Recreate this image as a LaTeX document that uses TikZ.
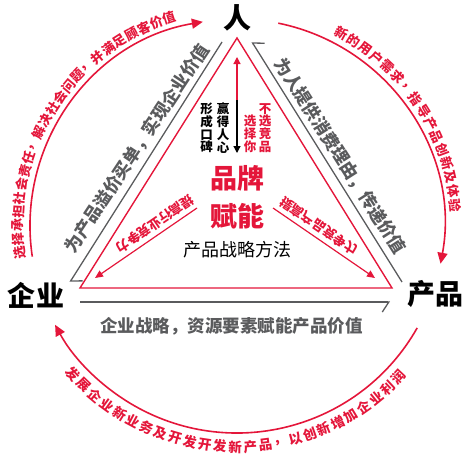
\documentclass[tikz,border=0pt]{standalone}
\usepackage{fontspec}
\setmainfont{Noto Sans CJK SC}
\usetikzlibrary{arrows.meta}
\definecolor{brandred}{HTML}{E4163A}
\definecolor{slate}{HTML}{5A5B5D}

\begin{document}
\begin{tikzpicture}[x=1pt,y=1pt,
     pole/.style={font=\fontsize{28}{28}\selectfont\bfseries,inner sep=0},
     slab/.style={font=\fontsize{17.5}{17.5}\selectfont\bfseries,text=slate,inner sep=0},
     tag/.style={font=\fontsize{13}{13}\selectfont\bfseries,text=brandred,inner sep=0},
     ringch/.style={font=\fontsize{13}{13}\selectfont\bfseries,text=brandred,inner sep=0},
     col/.style={font=\fontsize{12.5}{12.8}\selectfont\bfseries,align=center,inner sep=0},
     rim/.style={draw=brandred,line width=1.6pt,-{Triangle[length=11pt,width=10pt]}},
     edge/.style={draw=brandred,line width=1.4pt,line join=miter},
     flow/.style={draw=slate,line width=1.3pt,-{Straight Barb[harpoon,angle=114:12pt]}},
     flowsw/.style={draw=slate,line width=1.3pt,-{Straight Barb[harpoon,swap,angle=114:12pt]}},
     push/.style={draw=brandred,line width=1.2pt,-{Triangle[length=8pt,width=7pt]}}]
    \useasboundingbox (0,0) rectangle (470,-463);
    \node[pole](ren) at (237,-18){人};
    \node[pole](qiye) at (36,-295){企业};
    \node[pole](chanpin) at (435,-294){产品};
    % red triangle
    \coordinate (ta) at (237,-38); \coordinate (tl) at (80,-288); \coordinate (tr) at (392,-288);
    \draw[edge] (ta) -- (tl) -- (tr) -- cycle;
    % grey sides
    \coordinate (gl1) at (222,-42); \coordinate (gl2) at (70,-282);
    \coordinate (gr1) at (252,-42); \coordinate (gr2) at (402,-282);
    \coordinate (gb1) at (80,-302); \coordinate (gb2) at (390,-302);
    \draw[flow] (gl1) -- (gl2);
    \draw[flowsw] (gr2) -- (gr1);
    \draw[flowsw] (gb1) -- (gb2);
    \node[slab,rotate=56.5](left) at (137,-148.5){为产品溢价买单，实现企业价值};
    \node[slab,rotate=-57.5](right) at (340,-156){为人提供消费理由，传递价值};
    \node[slab](base) at (231.5,-326){企业战略，资源要素赋能产品价值};
    % outer ring
    \coordinate (hub) at (237,-226);
    \draw[rim] ([shift={(188.5:207)}]hub) arc[start angle=188.5,end angle=99.5,radius=207];
    \draw[rim] ([shift={(78.5:207)}]hub) arc[start angle=78.5,end angle=-10.5,radius=207];
    \draw[rim] ([shift={(-29.5:207)}]hub) arc[start angle=-29.5,end angle=-151.5,radius=207];
    \foreach \c [count=\i,evaluate=\i as \a using 187-(\i-1)*3.59] in {选,择,承,担,社,会,责,任,，,解,决,社,会,问,题,，,并,满,足,顾,客,价,值}
      \node[ringch,rotate=\a-90] at ([shift={(\a:219)}]hub){\c};
    \foreach \c [count=\i,evaluate=\i as \a using 61.6-(\i-1)*3.75] in {新,的,用,户,需,求,，,指,导,产,品,创,新,及,体,验}
      \node[ringch,rotate=\a-90] at ([shift={(\a:219)}]hub){\c};
    \foreach \c [count=\i,evaluate=\i as \a using 222.1+(\i-1)*3.95] in {发,展,企,业,新,业,务,及,开,发,开,发,新,产,品,，,以,创,新,增,加,企,业,利,润}
      \node[ringch,font=\fontsize{13.5}{13.5}\selectfont\bfseries,rotate=\a+90] at ([shift={(\a:221)}]hub){\c};
    % inside
    \coordinate (vt) at (237,-57); \coordinate (vm) at (237,-100); \coordinate (vb) at (237,-153);
    \draw[brandred,line width=1.2pt,-{Triangle[length=7pt,width=7pt]}] (vm) -- (vt);
    \draw[black,line width=1.2pt,-{Triangle[length=7pt,width=7pt]}] (vm) -- (vb);
    \node[col](word) at (206.5,-128){形\\成\\口\\碑};
    \node[col](win) at (223,-128){赢\\得\\人\\心};
    \node[col,text=brandred](pick) at (250,-133.5){选\\择\\你};
    \node[col,text=brandred](skip) at (265,-128){不\\选\\竞\\品};
    \node[font=\fontsize{27}{27}\selectfont\bfseries,text=brandred,inner sep=0](brand) at (237,-178){品牌};
    \node[font=\fontsize{27}{27}\selectfont\bfseries,text=brandred,inner sep=0](power) at (237,-216.5){赋能};
    \node[font=\fontsize{18}{18}\selectfont,inner sep=0](method) at (237,-249.5){产品战略方法};
    \coordinate (al1) at (197,-208); \coordinate (al2) at (95,-278);
    \coordinate (ar1) at (273,-208); \coordinate (ar2) at (375,-278);
    \draw[push] (al1) -- (al2);
    \draw[push] (ar1) -- (ar2);
    \node[tag,rotate=214.5](lift) at (155,-224){提高行业竞争力};
    \node[tag,rotate=-34.5,yscale=-1](edgeup) at (319,-226){提高产品竞争力};
  \end{tikzpicture}
\end{document}
